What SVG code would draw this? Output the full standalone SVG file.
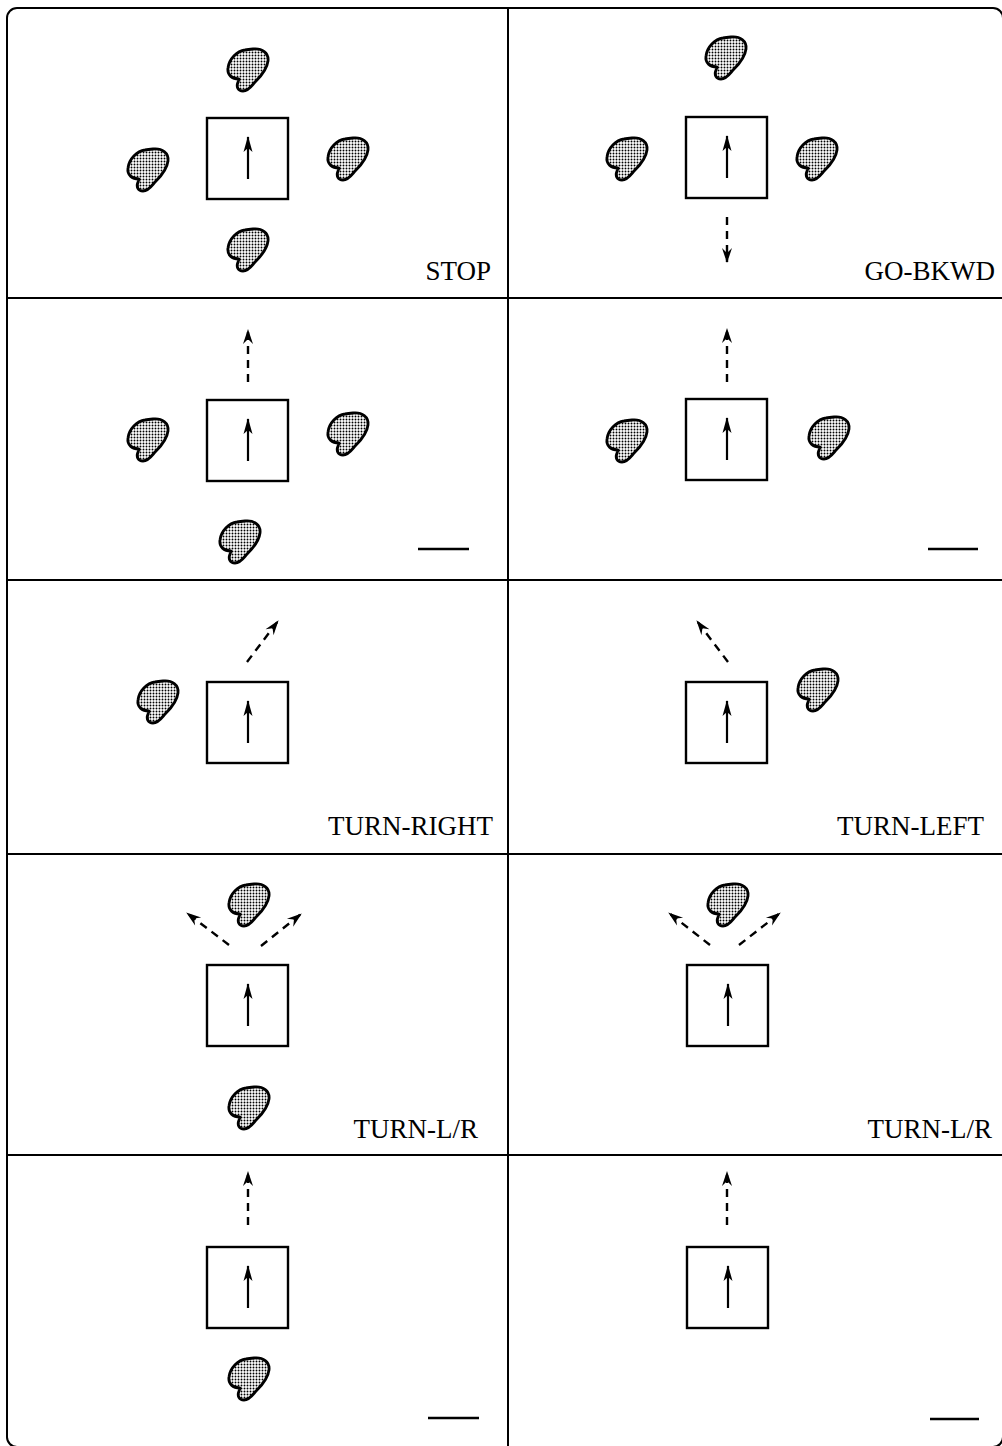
<svg xmlns="http://www.w3.org/2000/svg" xmlns:xlink="http://www.w3.org/1999/xlink" width="1002" height="1446" viewBox="0 0 1002 1446">
<style>
.frame{fill:none;stroke:#000;stroke-width:2}
.grid{stroke:#000;stroke-width:2}
.robot{fill:#fff;stroke:#000;stroke-width:2.4}
.heading{stroke:#000;stroke-width:2.2}
.move{stroke:#000;stroke-width:2.4;stroke-dasharray:8 6;fill:none}
.lbl{font-family:"Liberation Serif","Times New Roman",serif;font-size:27px;fill:#000;text-anchor:end}
.blank{stroke:#000;stroke-width:2.5}
</style>
<defs>
<pattern id="dots" patternUnits="userSpaceOnUse" width="3" height="3">
<rect width="3" height="3" fill="#fff"/>
<circle cx="1.5" cy="1.5" r="0.95" fill="#000"/>
</pattern>
<path id="blob" d="M26,1 C35,0 42,5 41,13 C40,21 34,28 29,33 C25,37 22,43 16,43 C11,43 9,39 11,34 L12,31 C5,31 0,27 1,20 C2,11 10,3 18,2 C21,1.5 23,1.3 26,1 Z" fill="url(#dots)" stroke="#000" stroke-width="2.8" stroke-linejoin="round"/>
<marker id="ah" markerUnits="userSpaceOnUse" markerWidth="20" markerHeight="20" refX="0" refY="0" orient="auto" overflow="visible">
<path d="M1,0 L-15,-4.5 L-11,0 L-15,4.5 Z" fill="#000"/>
</marker>
<marker id="dh" markerUnits="userSpaceOnUse" markerWidth="20" markerHeight="20" refX="0" refY="0" orient="auto" overflow="visible">
<path d="M1,0 L-14,-5 L-9,0 L-14,5 Z" fill="#000"/>
</marker>
</defs>
<rect width="1002" height="1446" fill="#fff"/>
<g id="frame">
<rect class="frame" x="7" y="8" width="996" height="1439" rx="10"/>
<line class="grid" x1="508" y1="8" x2="508" y2="1446"/>
<line class="grid" x1="7" y1="298" x2="1003" y2="298"/>
<line class="grid" x1="7" y1="580" x2="1003" y2="580"/>
<line class="grid" x1="7" y1="854" x2="1003" y2="854"/>
<line class="grid" x1="7" y1="1155" x2="1003" y2="1155"/>
</g>
<g id="robots">
<g id="r1l"><rect class="robot" x="207" y="118" width="81" height="81"/><line class="heading" x1="248" y1="179" x2="248" y2="137" marker-end="url(#ah)"/></g>
<g id="r1r"><rect class="robot" x="686" y="117" width="81" height="81"/><line class="heading" x1="727" y1="178" x2="727" y2="136" marker-end="url(#ah)"/></g>
<g id="r2l"><rect class="robot" x="207" y="400" width="81" height="81"/><line class="heading" x1="248" y1="461" x2="248" y2="419" marker-end="url(#ah)"/></g>
<g id="r2r"><rect class="robot" x="686" y="399" width="81" height="81"/><line class="heading" x1="727" y1="460" x2="727" y2="418" marker-end="url(#ah)"/></g>
<g id="r3l"><rect class="robot" x="207" y="682" width="81" height="81"/><line class="heading" x1="248" y1="743" x2="248" y2="701" marker-end="url(#ah)"/></g>
<g id="r3r"><rect class="robot" x="686" y="682" width="81" height="81"/><line class="heading" x1="727" y1="743" x2="727" y2="701" marker-end="url(#ah)"/></g>
<g id="r4l"><rect class="robot" x="207" y="965" width="81" height="81"/><line class="heading" x1="248" y1="1026" x2="248" y2="984" marker-end="url(#ah)"/></g>
<g id="r4r"><rect class="robot" x="687" y="965" width="81" height="81"/><line class="heading" x1="728" y1="1026" x2="728" y2="984" marker-end="url(#ah)"/></g>
<g id="r5l"><rect class="robot" x="207" y="1247" width="81" height="81"/><line class="heading" x1="248" y1="1308" x2="248" y2="1266" marker-end="url(#ah)"/></g>
<g id="r5r"><rect class="robot" x="687" y="1247" width="81" height="81"/><line class="heading" x1="728" y1="1308" x2="728" y2="1266" marker-end="url(#ah)"/></g>
</g>
<g id="obstacles">
<g id="o1lt"><use xlink:href="#blob" x="227" y="48"/></g>
<g id="o1ll"><use xlink:href="#blob" x="127" y="148"/></g>
<g id="o1lr"><use xlink:href="#blob" x="327" y="137"/></g>
<g id="o1lb"><use xlink:href="#blob" x="227" y="228"/></g>
<g id="o1rt"><use xlink:href="#blob" x="705" y="36"/></g>
<g id="o1rl"><use xlink:href="#blob" x="606" y="137"/></g>
<g id="o1rr"><use xlink:href="#blob" x="796" y="137"/></g>
<g id="o2ll"><use xlink:href="#blob" x="127" y="418"/></g>
<g id="o2lr"><use xlink:href="#blob" x="327" y="412"/></g>
<g id="o2lb"><use xlink:href="#blob" x="219" y="520"/></g>
<g id="o2rl"><use xlink:href="#blob" x="606" y="419"/></g>
<g id="o2rr"><use xlink:href="#blob" x="808" y="416"/></g>
<g id="o3ll"><use xlink:href="#blob" x="137" y="680"/></g>
<g id="o3rr"><use xlink:href="#blob" x="797" y="668"/></g>
<g id="o4lt"><use xlink:href="#blob" x="228" y="883"/></g>
<g id="o4lb"><use xlink:href="#blob" x="228" y="1086"/></g>
<g id="o4rt"><use xlink:href="#blob" x="707" y="883"/></g>
<g id="o5lb"><use xlink:href="#blob" x="228" y="1357"/></g>
</g>
<g id="connectors">
<line class="move" x1="727" y1="217" x2="727" y2="262" marker-end="url(#dh)"/>
<line class="move" x1="248" y1="382" x2="248" y2="330" marker-end="url(#dh)"/>
<line class="move" x1="727" y1="382" x2="727" y2="329" marker-end="url(#dh)"/>
<line class="move" x1="247" y1="662" x2="278" y2="621" marker-end="url(#dh)"/>
<line class="move" x1="728" y1="662" x2="697" y2="621" marker-end="url(#dh)"/>
<line class="move" x1="229" y1="945" x2="187" y2="913" marker-end="url(#dh)"/>
<line class="move" x1="261" y1="946" x2="301" y2="914" marker-end="url(#dh)"/>
<line class="move" x1="710" y1="945" x2="669" y2="913" marker-end="url(#dh)"/>
<line class="move" x1="739" y1="945" x2="780" y2="913" marker-end="url(#dh)"/>
<line class="move" x1="248" y1="1225" x2="248" y2="1172" marker-end="url(#dh)"/>
<line class="move" x1="727" y1="1225" x2="727" y2="1172" marker-end="url(#dh)"/>
</g>
<g id="labels">
<text class="lbl" x="491" y="280">STOP</text>
<text class="lbl" x="995" y="280">GO-BKWD</text>
<text class="lbl" x="493" y="835">TURN-RIGHT</text>
<text class="lbl" x="984" y="835">TURN-LEFT</text>
<text class="lbl" x="478" y="1138">TURN-L/R</text>
<text class="lbl" x="992" y="1138">TURN-L/R</text>
<line class="blank" x1="418" y1="549" x2="469" y2="549"/>
<line class="blank" x1="928" y1="549" x2="978" y2="549"/>
<line class="blank" x1="428" y1="1418" x2="479" y2="1418"/>
<line class="blank" x1="930" y1="1419" x2="979" y2="1419"/>
</g>
</svg>
